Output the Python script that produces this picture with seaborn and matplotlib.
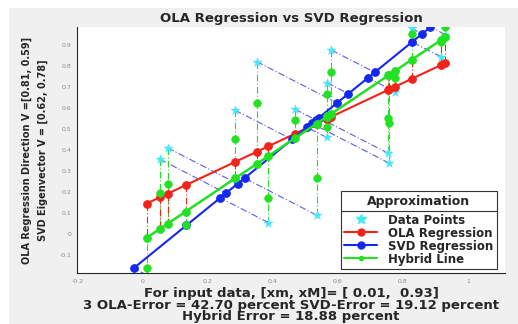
import numpy as np
import pandas as pd
import matplotlib
matplotlib.use("Agg")
import matplotlib.pyplot as plt
import seaborn as sns
from matplotlib.lines import Line2D
from matplotlib.patches import Rectangle

# Input samples (x, y)
data_x = [0.011, 0.052, 0.076, 0.131, 0.283, 0.350, 0.386, 0.468, 0.534,
          0.565, 0.567, 0.580, 0.755, 0.758, 0.775, 0.827, 0.917, 0.930]
data_y = [-0.195, 0.356, 0.410, 0.043, 0.590, 0.821, 0.054, 0.594, 0.090,
          0.460, 0.720, 0.876, 0.384, 0.337, 0.678, 0.979, 0.844, 0.950]

# Fitted directions / hybrid line parameters
ola_direction = [0.81, 0.59]
svd_direction = [0.62, 0.78]
hybrid_slope = 1.04
hybrid_intercept = -0.03

x_ticks = [-0.2, 0.0, 0.2, 0.4, 0.6, 0.8, 1.0]
x_tick_labels = ["-0.2", "0", "0.2", "0.4", "0.6", "0.8", "1"]
y_ticks = [-0.1, 0.0, 0.1, 0.2, 0.3, 0.4, 0.5, 0.6, 0.7, 0.8, 0.9]
y_tick_labels = ["-0.1", "0", "0.1", "0.2", "0.3", "0.4", "0.5", "0.6", "0.7", "0.8", "0.9"]

title_text = "OLA Regression vs SVD Regression"
ylabel_lines = ["OLA Regression Direction V =[0.81, 0.59]",
                "SVD Eigenvector V = [0.62, 0.78]"]
xlabel_lines = ["For input data, [xm, xM]= [ 0.01,  0.93]",
                "3 OLA-Error = 42.70 percent SVD-Error = 19.12 percent",
                "Hybrid Error = 18.88 percent"]
legend_title = "Approximation"
legend_labels = ["Data Points", "OLA Regression", "SVD Regression", "Hybrid Line"]

RED = "#f2241a"
BLUE = "#1428f0"
GREEN = "#22e022"
CYAN = "#45e8f6"
DASH_BLUE = "#5c5ce8"

# Regression geometry
px = np.array(data_x)
py = np.array(data_y)
cx, cy = px.mean(), py.mean()
ola_y = cy + ola_direction[1] / ola_direction[0] * (px - cx)
u = np.array(svd_direction) / np.linalg.norm(svd_direction)
t = (px - cx) * u[0] + (py - cy) * u[1]
svd_x = cx + t * u[0]
svd_y = cy + t * u[1]
hyb_y = hybrid_slope * px + hybrid_intercept

ola_df = pd.DataFrame({"x": px, "y": ola_y})
svd_df = pd.DataFrame({"x": svd_x, "y": svd_y})
hyb_df = pd.DataFrame({"x": px, "y": hyb_y})

sns.set_style("white")
plt.rcParams["font.family"] = ["DejaVu Sans"]

fig = plt.figure(figsize=(5.18, 3.24), dpi=100)
fig.patch.set_facecolor("white")
fig.patches.append(Rectangle((9 / 518, 0), 1 - 9 / 518, 1 - 8 / 324,
                             transform=fig.transFigure, facecolor="#f0f0f0",
                             edgecolor="none", zorder=-10))
ax = fig.add_axes([77 / 518, 51 / 324, 428 / 518, 246 / 324])
ax.set_facecolor("white")

dd = (6, 2, 1, 2)
for i in range(len(px)):
    ax.plot([px[i], svd_x[i]], [py[i], svd_y[i]], color=DASH_BLUE, lw=0.8,
            dashes=dd, zorder=1)
    ax.plot([px[i], px[i]], [py[i], hyb_y[i]], color=GREEN, lw=0.8,
            dashes=dd, zorder=1)
    ax.plot([px[i], px[i]], [ola_y[i], hyb_y[i]], color=RED, lw=0.8,
            dashes=dd, zorder=1)

sns.scatterplot(x=px, y=py, marker="*", s=48, color=CYAN, edgecolor=CYAN,
                linewidth=0.3, zorder=2, ax=ax, legend=False)

sns.lineplot(data=ola_df, x="x", y="y", estimator=None, sort=True, color=RED,
             lw=1.5, marker="o", markersize=5.5, markeredgecolor=RED,
             zorder=3, ax=ax)
sns.lineplot(data=svd_df, x="x", y="y", estimator=None, sort=True, color=BLUE,
             lw=1.5, marker="o", markersize=5.5, markeredgecolor=BLUE,
             zorder=4, ax=ax)
sns.lineplot(data=hyb_df, x="x", y="y", estimator=None, sort=True, color=GREEN,
             lw=1.8, marker="o", markersize=5.5, markeredgecolor=GREEN,
             zorder=5, ax=ax)
sns.scatterplot(x=px, y=svd_y, marker="o", s=30, color=GREEN, edgecolor=GREEN,
                zorder=5, ax=ax, legend=False)

ax.set_xlim(-0.203, 1.114)
ax.set_ylim(-0.186, 0.986)
ax.set_xticks(x_ticks)
ax.set_xticklabels(x_tick_labels)
ax.set_yticks(y_ticks)
ax.set_yticklabels(y_tick_labels)
ax.tick_params(direction="out", length=2, width=0.6, labelsize=4.5,
               labelcolor="#8a8a8a", color="#333333", pad=2)
for side in ("top", "right"):
    ax.spines[side].set_visible(False)
for side in ("left", "bottom"):
    ax.spines[side].set_color("#262626")
    ax.spines[side].set_linewidth(0.8)

ax.set_title(title_text, fontsize=9.5, fontweight="bold", pad=3.5)
ax.set_xlabel("\n".join(xlabel_lines), fontsize=9.5, fontweight="bold",
              linespacing=0.86, labelpad=2.5)
ax.set_ylabel("\n".join(ylabel_lines), fontsize=7, fontweight="bold",
              linespacing=1.8, labelpad=8)

handles = [
    Line2D([], [], ls="none", marker="*", color=CYAN, ms=7),
    Line2D([], [], color=RED, marker="o", ms=5, lw=1.5),
    Line2D([], [], color=BLUE, marker="o", ms=5, lw=1.5),
    Line2D([], [], color=GREEN, marker="o", ms=3, lw=1.5),
]
leg = ax.legend(handles, legend_labels, title=legend_title, loc="lower right",
                bbox_to_anchor=(0.981, 0.016), frameon=True, fancybox=False,
                edgecolor="#333333", framealpha=1,
                prop=dict(weight="bold", size=8.5),
                title_fontproperties=dict(weight="bold", size=9),
                borderpad=0.3, labelspacing=0.0, handlelength=2.8,
                handletextpad=0.9, borderaxespad=0)
leg.get_frame().set_linewidth(0.8)
leg._legend_box.sep = 4

# separator between the legend title and its entries
fig.canvas.draw()
renderer = fig.canvas.get_renderer()
lb = leg.get_window_extent(renderer)
tb = leg.get_title().get_window_extent(renderer)
first = leg.get_texts()[0].get_window_extent(renderer)
ysep = (tb.y0 + first.y1) / 2
inv = fig.transFigure.inverted()
(x0, y0) = inv.transform((lb.x0, ysep))
(x1, _) = inv.transform((lb.x1, ysep))
fig.add_artist(Line2D([x0, x1], [y0, y0], transform=fig.transFigure,
                      color="#333333", lw=0.8, zorder=10))

fig.savefig("out.png", dpi=100)
